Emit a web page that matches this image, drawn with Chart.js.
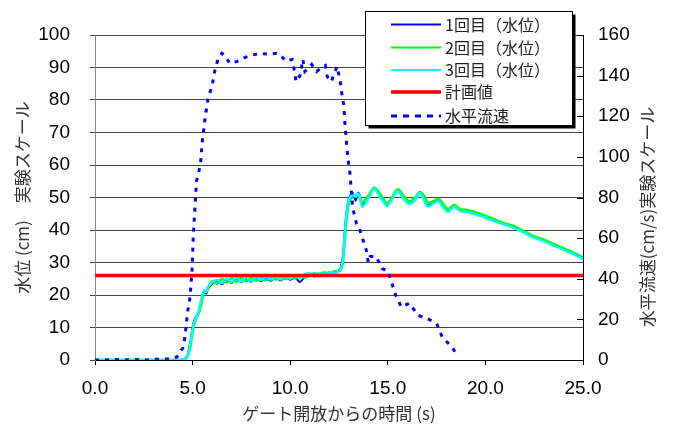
<!DOCTYPE html>
<html>
<head>
<meta charset="utf-8">
<script src="https://cdn.jsdelivr.net/npm/chart.js@4.4.1/dist/chart.umd.min.js"></script>
<style>
  html, body { margin: 0; padding: 0; background: #fff; }
  #wrap { position: relative; width: 674px; height: 426px; }
</style>
</head>
<body>
<div id="wrap"><canvas id="chart" width="674" height="426"></canvas></div>
<script>
// time axis for the three water level runs (s)
const levelTime = [0, 1, 2, 3, 4, 4.5, 4.7, 4.8, 4.9,
  5.0, 5.1, 5.2, 5.3, 5.4, 5.5, 5.6, 5.7, 5.8,
  6.0, 6.25, 6.5, 6.75, 7.0, 7.25, 7.5, 7.75, 8.0, 8.25, 8.5, 8.75, 9.0, 9.25,
  9.5, 9.75, 10.0, 10.25, 10.5, 10.75, 11.0, 11.25, 11.5, 11.75, 12.0, 12.25, 12.5,
  12.6, 12.7, 12.8, 12.9, 13.0, 13.2, 13.35, 13.5, 13.7, 14.0, 14.3, 14.6, 14.95,
  15.2, 15.5, 15.8, 16.1, 16.4, 16.65, 16.85, 17.05, 17.3, 17.6, 17.85,
  18.1, 18.4, 18.7, 19.0, 19.4, 19.8, 20.4, 21.0, 21.4, 22.0, 22.4, 23.0, 23.5,
  24.0, 24.8, 25.0];

// water level (cm), run 1 / 2 / 3
const level1 = [0, 0, 0, 0, 0, 0.2, 1, 3, 6,
  10, 12.5, 13.5, 14.5, 17, 19.5, 21, 20.5, 22,
  23.5, 24.4, 23.3, 24.8, 23.7, 25.0, 23.9, 25.1, 24.1, 25.2, 24.2, 25.3, 24.4, 25.4,
  24.5, 25.5, 24.7, 25.4, 24.0, 25.6, 26.3, 25.7, 26.5, 26.2, 26.9, 26.5, 27.6,
  28.5, 32, 40, 46, 49.5, 51.5, 49, 51.5, 47.8, 50, 52.8, 50.5, 47.8,
  49.5, 52.2, 50, 48.3, 49.5, 51.8, 49.5, 47.6, 48.2, 49.2, 47.3,
  45.8, 47.6, 46.0, 45.8, 45.2, 44.4, 43.0, 41.8, 41.0, 39.3, 38.0, 36.8, 35.5,
  34.2, 32.0, 31.3];
const level2 = [0, 0, 0, 0, 0, 0.1, 0.6, 2, 4.5,
  8.5, 11.5, 13, 14.2, 16, 18.8, 20.8, 21, 22.3,
  24.2, 23.4, 24.9, 23.9, 25.2, 24.1, 25.3, 24.2, 25.4, 24.4, 25.5, 24.5, 25.6, 24.7,
  25.7, 24.9, 25.8, 25.1, 25.9, 25.3, 26.1, 26.7, 26.1, 27.0, 26.4, 27.3, 27.3,
  27.8, 30, 37, 44, 48, 50.5, 50.8, 51.0, 48.5, 50.5, 53.0, 51.2, 48.2,
  49.8, 52.5, 50.6, 48.8, 50.0, 51.6, 50.6, 48.4, 48.8, 49.6, 47.8,
  46.4, 47.8, 46.4, 46.2, 45.6, 44.8, 43.4, 42.0, 41.3, 39.6, 38.3, 37.0, 35.7,
  34.4, 32.2, 31.5];
const level3 = [0, 0, 0, 0, 0, 0.1, 0.8, 2.5, 5.5,
  9.5, 12, 13.4, 14.8, 17.5, 20, 21.5, 21, 22.6,
  23.8, 24.7, 23.6, 25.0, 23.9, 25.3, 24.1, 25.4, 24.3, 25.5, 24.5, 25.6, 24.7, 25.7,
  24.8, 25.8, 25.0, 25.9, 25.3, 26.4, 26.7, 26.0, 26.8, 26.3, 27.0, 26.7, 27.4,
  28.2, 31, 39, 45.5, 49, 51.0, 50.2, 51.2, 47.2, 49.6, 52.6, 50.2, 47.4,
  49.2, 52.0, 49.6, 48.0, 49.2, 51.4, 49.2, 47.2, 48.0, 48.8, 46.8,
  45.6, 47.2, 45.8, 45.6, 45.0, 44.2, 42.8, 41.6, 40.8, 39.1, 37.8, 36.5, 35.2,
  33.9, 31.7, 31.0];

// design value
const planTime = [0, 25];
const planLevel = [26, 26];

// horizontal velocity (cm/s)
const velTime = [0, 0.5, 1, 1.5, 2, 2.5, 3, 3.5, 3.8, 4.2,
  4.5, 4.6, 4.75, 4.87, 4.97, 5.03, 5.2, 5.4, 5.5, 5.65,
  5.8, 6.0, 6.15, 6.3, 6.5, 6.66, 6.9, 7.3, 7.7, 8.0,
  8.45, 8.9, 9.3, 9.5, 9.8, 10.1, 10.2, 10.3, 10.5, 10.65,
  10.75, 11.1, 11.35, 11.6, 11.8, 11.9, 12.1, 12.4, 12.55, 12.65,
  12.75, 12.8, 12.9, 12.96, 13.06, 13.2, 13.4, 13.5, 13.7, 13.9,
  14.0, 14.1, 14.4, 14.7, 15.0, 15.2, 15.4, 15.7, 16.1, 16.55,
  17.0, 17.5, 17.8, 18.3, 18.5];
const velValue = [0, 0, 0.3, 0, 0.3, 0, 0.3, 0.5, 0.5, 1.5,
  6, 11, 24, 31, 44, 60, 88, 96, 108, 120,
  129, 135, 143, 148, 151, 150, 146, 147, 149, 150,
  151, 150.5, 151, 150, 147, 148, 143, 137, 140, 148,
  142, 145.5, 142, 144, 145, 139.5, 137, 144.5, 138, 131,
  125, 117, 105, 99, 92, 75, 67, 66, 60, 54,
  48, 51, 51, 45, 44, 38, 32, 26, 28, 22,
  20.5, 18, 11, 6.4, 3];

const legendLabels = ['1回目（水位）', '2回目（水位）', '3回目（水位）', '計画値', '水平流速'];
const xTitle = 'ゲート開放からの時間 (s)';
const yTitle = '水位 (cm)　実験スケール';
const y1Title = '水平流速(cm/s)実験スケール';

const toXY = (xs, ys) => xs.map((x, i) => ({ x: x, y: ys[i] }));

const jpFont = '"Noto Sans CJK JP", sans-serif';
const numFont = '"Liberation Sans", Arial, sans-serif';

// legend box, right axis title and inward ticks on the right axis
const extras = {
  id: 'extras',
  afterDraw(chart) {
    const ctx = chart.ctx;
    const area = chart.chartArea;
    const y1 = chart.scales.y1;

    ctx.save();
    // inward ticks on secondary axis
    ctx.strokeStyle = '#000';
    ctx.lineWidth = 1;
    y1.ticks.forEach(t => {
      const y = Math.round(y1.getPixelForValue(t.value)) + 0.5;
      ctx.beginPath();
      ctx.moveTo(area.right - 6, y);
      ctx.lineTo(area.right, y);
      ctx.stroke();
    });

    // right axis title, reading bottom to top
    ctx.fillStyle = '#333';
    ctx.font = '17px ' + jpFont;
    ctx.textAlign = 'center';
    ctx.textBaseline = 'middle';
    ctx.translate(648, 217);
    ctx.rotate(-Math.PI / 2);
    ctx.fillText(y1Title, 0, 0);
    ctx.restore();

    // legend
    ctx.save();
    const bx = 365.5, by = 11.5, bw = 207, bh = 114;
    ctx.fillStyle = '#000';
    ctx.fillRect(bx + 3, by + 3, bw, bh);
    ctx.fillStyle = '#fff';
    ctx.fillRect(bx, by, bw, bh);
    ctx.strokeStyle = '#000';
    ctx.lineWidth = 1;
    ctx.strokeRect(bx, by, bw, bh);
    const rows = [24.5, 47.5, 70, 92, 116];
    chart.data.datasets.forEach((ds, i) => {
      const y = rows[i];
      ctx.strokeStyle = ds.borderColor;
      ctx.lineWidth = i === 4 ? 3 : (i === 3 ? 3.5 : 2);
      ctx.setLineDash(i === 4 ? [6, 6] : []);
      ctx.beginPath();
      ctx.moveTo(391, y);
      ctx.lineTo(441, y);
      ctx.stroke();
      ctx.setLineDash([]);
      ctx.fillStyle = '#222';
      ctx.font = '16px ' + jpFont;
      ctx.textAlign = 'left';
      ctx.textBaseline = 'middle';
      ctx.fillText(legendLabels[i], 445, y);
    });
    ctx.restore();
  }
};

const ctx = document.getElementById('chart').getContext('2d');
const chart = new Chart(ctx, {
  type: 'line',
  data: {
    datasets: [
      { label: legendLabels[0], data: toXY(levelTime, level1), borderColor: '#0000FF', borderWidth: 2, tension: 0.3, order: 4, yAxisID: 'y' },
      { label: legendLabels[1], data: toXY(levelTime, level2), borderColor: '#00FF00', borderWidth: 2.5, tension: 0.3, order: 3, yAxisID: 'y' },
      { label: legendLabels[2], data: toXY(levelTime, level3), borderColor: '#00FFFF', borderWidth: 2.5, tension: 0.3, order: 2, yAxisID: 'y' },
      { label: legendLabels[3], data: toXY(planTime, planLevel), borderColor: '#FF0000', borderWidth: 3.5, order: 1, yAxisID: 'y' },
      { label: legendLabels[4], data: toXY(velTime, velValue), borderColor: '#0000FF', borderWidth: 3, borderDash: [4, 6], order: 0, yAxisID: 'y1' }
    ]
  },
  options: {
    responsive: false,
    animation: false,
    elements: { point: { radius: 0 } },
    layout: { padding: { top: 35, left: 0, right: 0, bottom: 0 } },
    plugins: { legend: { display: false }, tooltip: { enabled: false } },
    scales: {
      x: {
        type: 'linear', min: 0, max: 25,
        afterFit: s => { s.height = 66; },
        ticks: { stepSize: 5, callback: v => v.toFixed(1), color: '#000', font: { family: numFont, size: 19 }, padding: 12, maxRotation: 0 },
        grid: { drawOnChartArea: false, drawTicks: true, tickLength: 5, color: '#000' },
        border: { color: '#000' },
        title: { display: true, text: xTitle, color: '#333', font: { family: jpFont, size: 17 }, padding: { top: 0, bottom: 2 } }
      },
      y: {
        position: 'left', min: 0, max: 100,
        afterFit: s => { s.width = 95; },
        ticks: { stepSize: 10, color: '#000', font: { family: numFont, size: 19 }, padding: 20 },
        grid: { color: '#444', tickLength: 5 },
        border: { color: '#888' },
        title: { display: true, text: yTitle, color: '#333', font: { family: jpFont, size: 17 }, padding: { top: 12, bottom: 0 } }
      },
      y1: {
        position: 'right', min: 0, max: 160,
        afterFit: s => { s.width = 91; },
        ticks: { stepSize: 20, color: '#000', font: { family: numFont, size: 19 }, padding: 15 },
        grid: { drawOnChartArea: false, drawTicks: false },
        border: { color: '#000' }
      }
    }
  },
  plugins: [extras]
});
</script>
</body>
</html>
